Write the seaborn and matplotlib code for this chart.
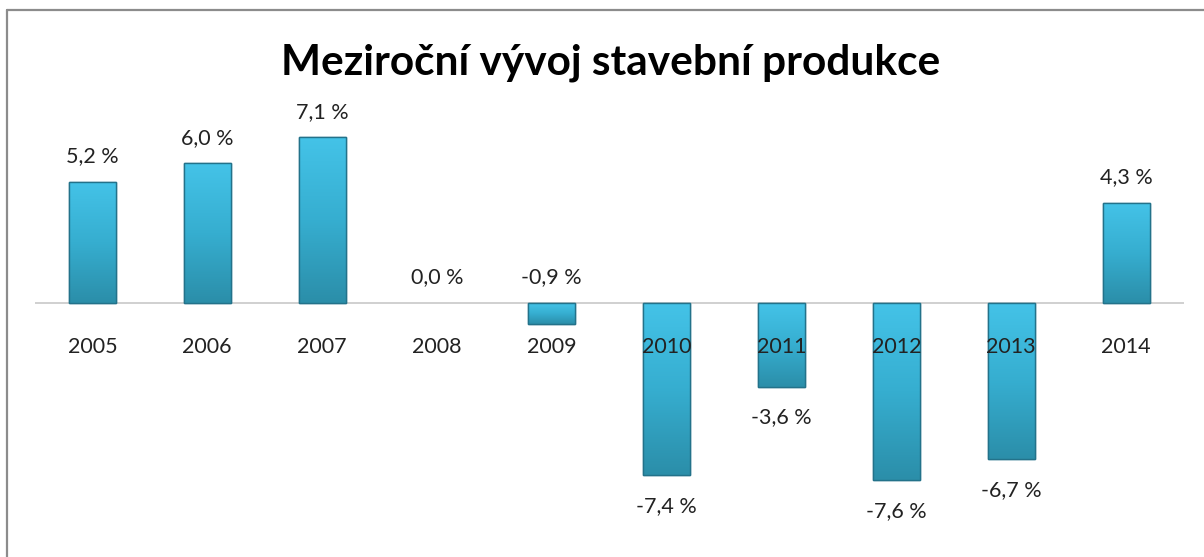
import numpy as np
import pandas as pd
import matplotlib.pyplot as plt
import seaborn as sns
from matplotlib.colors import LinearSegmentedColormap
from matplotlib.lines import Line2D

years = ["2005", "2006", "2007", "2008", "2009", "2010", "2011", "2012", "2013", "2014"]
growth = [5.2, 6.0, 7.1, 0.0, -0.9, -7.4, -3.6, -7.6, -6.7, 4.3]
title = "Meziroční vývoj stavební produkce"

df = pd.DataFrame({"rok": years, "vyvoj": growth})

sns.set_theme(style="white")
plt.rcParams["font.family"] = ["Lato", "DejaVu Sans"]

fig = plt.figure(figsize=(12.04, 5.57), dpi=100)
ax = fig.add_axes([0.029, 0.059, 0.954, 0.774])

sns.barplot(data=df, x="rok", y="vyvoj", color="#36b2d4", width=0.41,
            edgecolor="#23728a", linewidth=1.0, ax=ax)

ax.set_xlim(-0.5, 9.5)
ax.set_ylim(-9.5, 9.0)

# vertical gradient inside each bar
grad = LinearSegmentedColormap.from_list("bar", ["#44c3e8", "#36aed0", "#2b8ea9"])
gimg = np.linspace(0, 1, 256).reshape(-1, 1)
for p in ax.patches:
    x0, y0 = p.get_x(), p.get_y()
    w, h = p.get_width(), p.get_height()
    if abs(h) < 1e-9:
        p.set_visible(False)
        continue
    lo, hi = min(y0, y0 + h), max(y0, y0 + h)
    im = ax.imshow(gimg, cmap=grad, aspect="auto", extent=(x0, x0 + w, lo, hi),
                   origin="upper", zorder=p.get_zorder() + 0.1)
    im.set_clip_path(p)
    ax.add_patch(plt.Rectangle((x0, lo), w, hi - lo, fill=False,
                               edgecolor="#23728a", linewidth=1.0,
                               zorder=p.get_zorder() + 0.2))

ax.axhline(0, color="#c8c8c8", linewidth=1.2, zorder=0.5)

# value labels
for i, v in enumerate(growth):
    txt = f"{v:.1f}".replace(".", ",") + " %"
    if v >= 0:
        ax.annotate(txt, (i, v), xytext=(0, 11), textcoords="offset points",
                    ha="center", va="bottom", fontsize=15.5, color="#222222")
    elif v > -2:
        # small negative bar: label sits above the zero line
        ax.annotate(txt, (i, 0), xytext=(0, 11), textcoords="offset points",
                    ha="center", va="bottom", fontsize=15.5, color="#222222")
    else:
        ax.annotate(txt, (i, v), xytext=(0, -15), textcoords="offset points",
                    ha="center", va="top", fontsize=15.5, color="#222222")

# year labels just under the zero line
for i, y in enumerate(years):
    ax.annotate(y, (i, 0), xytext=(0, -32), textcoords="offset points",
                ha="center", va="center", fontsize=15.5, color="#222222", zorder=5)

ax.set_xticks([])
ax.set_yticks([])
ax.set_xlabel("")
ax.set_ylabel("")
sns.despine(ax=ax, left=True, bottom=True)
ax.patch.set_alpha(0)

fig.text(0.507, 0.888, title, ha="center", va="center", fontsize=30.5,
         fontweight="bold", color="black")

# chart frame (only top and left edges are visible)
fig.add_artist(Line2D([7 / 1204, 1.0], [1 - 10 / 557, 1 - 10 / 557],
                      color="#8c8c8c", linewidth=1.6, transform=fig.transFigure))
fig.add_artist(Line2D([7 / 1204, 7 / 1204], [0.0, 1 - 10 / 557],
                      color="#8c8c8c", linewidth=1.6, transform=fig.transFigure))

fig.savefig("out.png", dpi=100)
